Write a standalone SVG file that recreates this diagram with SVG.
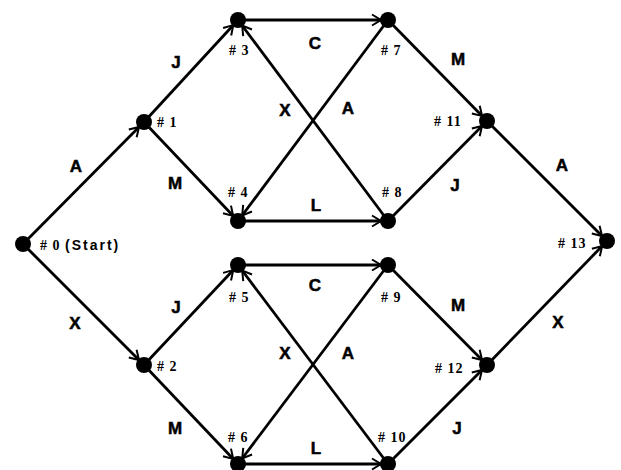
<svg xmlns="http://www.w3.org/2000/svg" width="621" height="470" viewBox="0 0 621 470">
<style>
.e{stroke:#000;stroke-width:2.8;fill:none;marker-end:url(#ah)}
.n{fill:#000}
.nl{font-family:"Liberation Serif",serif;font-weight:bold;font-size:14px;letter-spacing:1px;fill:#000}
.el{font-family:"Liberation Sans",Arial,sans-serif;font-weight:bold;font-size:17px;fill:#000;stroke:#000;stroke-width:0.5;text-anchor:middle}
</style>
<defs>
<marker id="ah" markerUnits="userSpaceOnUse" markerWidth="30" markerHeight="30" refX="0" refY="0" orient="auto" overflow="visible">
<path d="M-16,-5.5 L-7,0 L-16,5.5" fill="none" stroke="#000" stroke-width="2"/>
</marker>
</defs>
<g id="connectors">
<line class="e" x1="23" y1="244" x2="144" y2="122"/>
<line class="e" x1="23" y1="244" x2="144" y2="365"/>
<line class="e" x1="144" y1="122" x2="238" y2="20"/>
<line class="e" x1="144" y1="122" x2="238" y2="221"/>
<line class="e" x1="238" y1="20" x2="388" y2="20"/>
<line class="e" x1="388" y1="221" x2="238" y2="20"/>
<line class="e" x1="388" y1="20" x2="238" y2="221"/>
<line class="e" x1="238" y1="221" x2="388" y2="221"/>
<line class="e" x1="388" y1="20" x2="487" y2="121"/>
<line class="e" x1="388" y1="221" x2="487" y2="121"/>
<line class="e" x1="487" y1="121" x2="607" y2="241"/>
<line class="e" x1="144" y1="365" x2="238" y2="265"/>
<line class="e" x1="144" y1="365" x2="238" y2="464"/>
<line class="e" x1="238" y1="265" x2="388" y2="265"/>
<line class="e" x1="388" y1="464" x2="238" y2="265"/>
<line class="e" x1="388" y1="265" x2="238" y2="464"/>
<line class="e" x1="238" y1="464" x2="388" y2="464"/>
<line class="e" x1="388" y1="265" x2="487" y2="365"/>
<line class="e" x1="388" y1="464" x2="487" y2="365"/>
<line class="e" x1="487" y1="365" x2="607" y2="241"/>
<text class="el" x="76" y="172">A</text>
<text class="el" x="75" y="329">X</text>
<text class="el" x="176" y="68">J</text>
<text class="el" x="175" y="189">M</text>
<text class="el" x="315" y="49">C</text>
<text class="el" x="285" y="116">X</text>
<text class="el" x="348" y="114">A</text>
<text class="el" x="316" y="211">L</text>
<text class="el" x="458" y="65">M</text>
<text class="el" x="455" y="191">J</text>
<text class="el" x="562" y="171">A</text>
<text class="el" x="176" y="313">J</text>
<text class="el" x="175" y="434">M</text>
<text class="el" x="315" y="291">C</text>
<text class="el" x="285" y="359">X</text>
<text class="el" x="348" y="359">A</text>
<text class="el" x="316" y="454">L</text>
<text class="el" x="458" y="311">M</text>
<text class="el" x="457" y="434">J</text>
<text class="el" x="558" y="328">X</text>
</g>
<g id="n0"><circle class="n" cx="23" cy="244" r="8"/><text class="nl" x="40" y="250"># 0 <tspan font-family="Liberation Sans,Arial,sans-serif" font-size="14" letter-spacing="2">(Start)</tspan></text></g>
<g id="n1"><circle class="n" cx="144" cy="122" r="8"/><text class="nl" x="157" y="127"># 1</text></g>
<g id="n2"><circle class="n" cx="144" cy="365" r="8"/><text class="nl" x="157" y="371"># 2</text></g>
<g id="n3"><circle class="n" cx="238" cy="20" r="8"/><text class="nl" x="229" y="55"># 3</text></g>
<g id="n4"><circle class="n" cx="238" cy="221" r="8"/><text class="nl" x="228" y="197"># 4</text></g>
<g id="n5"><circle class="n" cx="238" cy="265" r="8"/><text class="nl" x="229" y="302"># 5</text></g>
<g id="n6"><circle class="n" cx="238" cy="464" r="8"/><text class="nl" x="228" y="442"># 6</text></g>
<g id="n7"><circle class="n" cx="388" cy="20" r="8"/><text class="nl" x="381" y="55"># 7</text></g>
<g id="n8"><circle class="n" cx="388" cy="221" r="8"/><text class="nl" x="382" y="197"># 8</text></g>
<g id="n9"><circle class="n" cx="388" cy="265" r="8"/><text class="nl" x="381" y="302"># 9</text></g>
<g id="n10"><circle class="n" cx="388" cy="464" r="8"/><text class="nl" x="378" y="442"># 10</text></g>
<g id="n11"><circle class="n" cx="487" cy="121" r="8"/><text class="nl" x="434" y="126"># 11</text></g>
<g id="n12"><circle class="n" cx="487" cy="365" r="8"/><text class="nl" x="435" y="373"># 12</text></g>
<g id="n13"><circle class="n" cx="607" cy="241" r="8"/><text class="nl" x="558" y="248"># 13</text></g>
</svg>
